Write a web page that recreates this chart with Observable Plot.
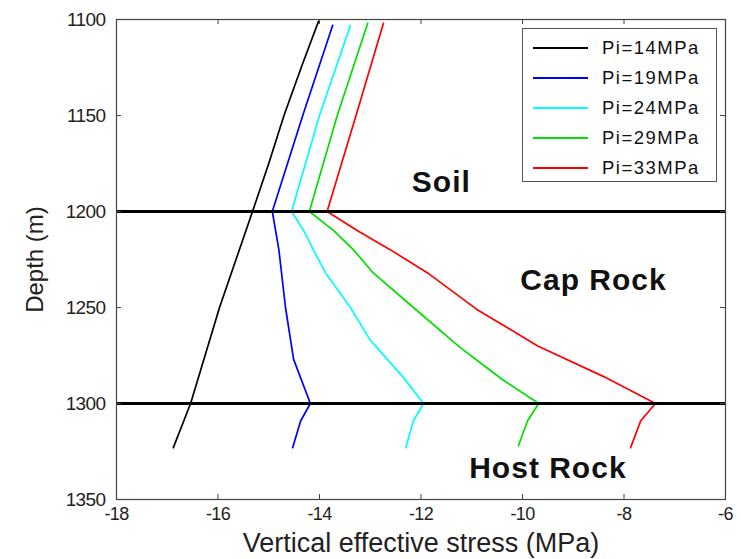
<!DOCTYPE html>
<html>
<head>
<meta charset="utf-8">
<script src="https://cdn.jsdelivr.net/npm/d3@7"></script>
<script src="https://cdn.jsdelivr.net/npm/@observablehq/plot@0.6"></script>
<style>
  html, body { margin: 0; padding: 0; background: #fff; }
  #wrap { position: relative; width: 741px; height: 559px; font-family: "Liberation Sans", Arial, sans-serif; }
  #legend { position: absolute; left: 522px; top: 28px; width: 195px; height: 154px; border: 1px solid #555; background: #fff; box-sizing: border-box; padding-top: 4px; }
  .row { display: flex; align-items: center; height: 30px; }
  .sw { width: 55px; margin-left: 10px; margin-right: 14px; height: 0; border-top: 2px solid; }
  .lb { font-size: 18.5px; color: #111; letter-spacing: 1.5px; }
  .tk text { letter-spacing: -0.6px; }
  .rg text { letter-spacing: 1px; }
</style>
</head>
<body>
<div id="wrap"></div>
<script>
// ---- data ----
const seriesNames = ["Pi=14MPa", "Pi=19MPa", "Pi=24MPa", "Pi=29MPa", "Pi=33MPa"];
const seriesColors = ["#000000", "#0000ff", "#00ffff", "#00e000", "#ff0000"];

const depth14  = [1101, 1125, 1150, 1175, 1200, 1250, 1300, 1323];
const stress14 = [-14.02, -14.36, -14.70, -15.00, -15.32, -15.97, -16.54, -16.88];

const depth19  = [1103, 1150, 1200, 1220, 1250, 1277, 1300, 1309, 1323];
const stress19 = [-13.74, -14.33, -14.93, -14.80, -14.67, -14.51, -14.18, -14.37, -14.53];

const depth24  = [1103, 1150, 1200, 1210, 1220, 1232, 1250, 1267, 1286, 1300, 1309, 1323];
const stress24 = [-13.39, -14.00, -14.55, -14.31, -14.12, -13.88, -13.39, -13.00, -12.36, -11.95, -12.15, -12.30];

const depth29  = [1102, 1150, 1200, 1210, 1220, 1232, 1250, 1271, 1288, 1300, 1309, 1322];
const stress29 = [-13.05, -13.65, -14.20, -13.72, -13.33, -12.94, -12.15, -11.22, -10.37, -9.68, -9.90, -10.08];

const depth33  = [1102, 1150, 1200, 1210, 1220, 1232, 1251, 1270, 1286, 1300, 1309, 1323];
const stress33 = [-12.74, -13.28, -13.85, -13.25, -12.60, -11.87, -10.90, -9.70, -8.40, -7.38, -7.67, -7.87];

const xTicks = [-18, -16, -14, -12, -10, -8, -6];
const yTicks = [1100, 1150, 1200, 1250, 1300, 1350];
const boundaries = [1200, 1300];

const regionNames = ["Soil", "Cap Rock", "Host Rock"];
const regionX = [-11.6, -8.6, -9.5];
const regionY = [1190, 1241, 1339];

// ---- build ----
const depths = [depth14, depth19, depth24, depth29, depth33];
const stresses = [stress14, stress19, stress24, stress29, stress33];
const rows = [];
seriesNames.forEach((name, i) => {
  depths[i].forEach((d, j) => rows.push({series: name, depth: d, stress: stresses[i][j]}));
});
const regions = regionNames.map((t, i) => ({t, x: regionX[i], y: regionY[i]}));

const W = 741, H = 559, mL = 116, mR = 16, mT = 19, mB = 60;
const fw = W - mL - mR, fh = H - mT - mB, tk = 5;

const chart = Plot.plot({
  width: W, height: H,
  marginLeft: mL, marginRight: mR, marginTop: mT, marginBottom: mB,
  style: {fontFamily: "'Liberation Sans', Arial, sans-serif", background: "#fff", color: "#222"},
  x: {domain: [-18, -6]},
  y: {domain: [1100, 1350], reverse: true},
  color: {domain: seriesNames, range: seriesColors},
  marks: [
    Plot.line(rows, {x: "stress", y: "depth", z: "series", stroke: "series", strokeWidth: 1.7}),
    Plot.ruleY(boundaries, {stroke: "#000", strokeWidth: 3}),
    Plot.text(regions, {x: "x", y: "y", text: "t", fontSize: 30, fontWeight: "bold", fill: "#111", lineAnchor: "bottom", className: "rg"}),
    Plot.frame({stroke: "#444", strokeWidth: 1.2}),
    Plot.tickX(xTicks, {x: d => d, insetTop: fh - tk, stroke: "#444"}),
    Plot.tickX(xTicks, {x: d => d, insetBottom: fh - tk, stroke: "#444"}),
    Plot.tickY(yTicks, {y: d => d, insetRight: fw - tk, stroke: "#444"}),
    Plot.tickY(yTicks, {y: d => d, insetLeft: fw - tk, stroke: "#444"}),
    Plot.axisX({ticks: xTicks, tickSize: 0, tickPadding: 8, fontSize: 18, label: null, className: "tk", tickFormat: d => String(d)}),
    Plot.axisY({ticks: yTicks, tickSize: 0, tickPadding: 11, fontSize: 19, label: null, className: "tk", tickFormat: d => String(d)}),
    Plot.text(["Vertical effective stress (MPa)"], {frameAnchor: "bottom", dy: 44, lineAnchor: "middle", textAnchor: "middle", fontSize: 27, fill: "#222"}),
    Plot.text(["Depth (m)"], {frameAnchor: "left", dx: -81, rotate: -90, textAnchor: "middle", lineAnchor: "middle", fontSize: 24, fill: "#222"})
  ]
});

const wrap = document.getElementById("wrap");
wrap.appendChild(chart);

const legend = document.createElement("div");
legend.id = "legend";
seriesNames.forEach((n, i) => {
  const r = document.createElement("div");
  r.className = "row";
  const s = document.createElement("span");
  s.className = "sw";
  s.style.borderTopColor = seriesColors[i];
  const l = document.createElement("span");
  l.className = "lb";
  l.textContent = n;
  r.appendChild(s); r.appendChild(l);
  legend.appendChild(r);
});
wrap.appendChild(legend);
</script>
</body>
</html>
